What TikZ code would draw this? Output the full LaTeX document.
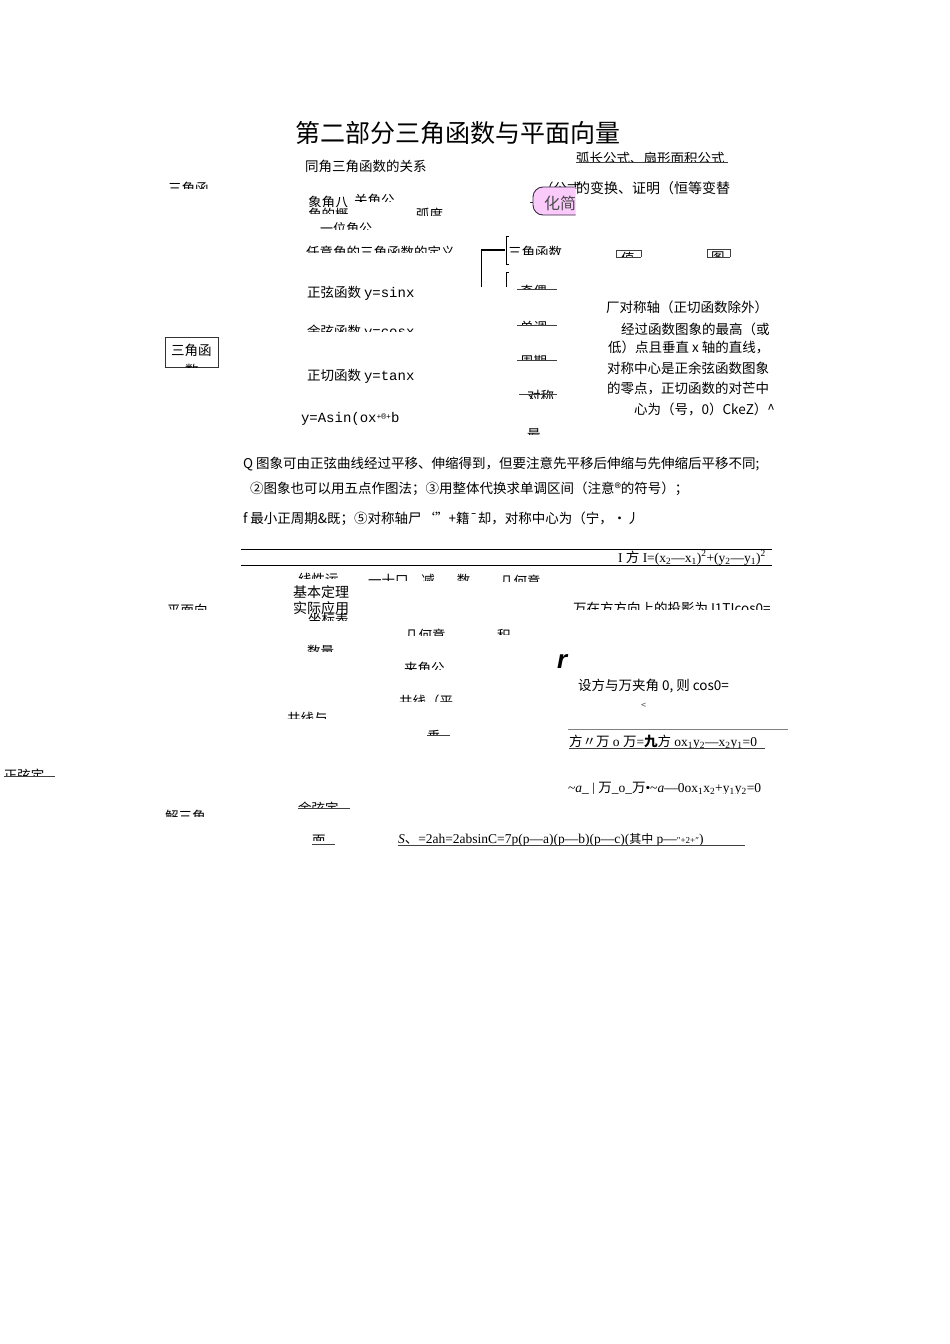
\documentclass[tikz,border=0pt]{standalone}
\usepackage{fontspec}
\setmainfont{Noto Sans CJK SC}
\newfontfamily\lmono{Liberation Mono}
\newfontfamily\lserif{Liberation Serif}
\newfontfamily\lsans{Liberation Sans}
\newfontfamily\cjkf{Noto Sans CJK SC}
\definecolor{pinkfill}{RGB}{250,202,250}
\definecolor{pinkline}{RGB}{60,40,70}
\tikzset{
 txt/.style={anchor=base west, inner sep=0pt, outer sep=0pt, font=\fontsize{13.5}{16}\selectfont},
 bigt/.style={txt, font=\fontsize{25}{28}\selectfont},
 monot/.style={txt, font=\fontsize{14}{16}\selectfont\lmono},
 rule/.style={line width=0.8pt, black},
 uline/.style={line width=0.6pt, black!75},
 brk/.style={line width=0.7pt, black},
}
% name, x, baseline y, lower clip y, text
\newcommand\cnode[5]{\begin{scope}\clip (#2-3,#3-26) rectangle (#2+330,#4);\node[txt] (#1) at (#2,#3) {#5};\end{scope}}
\begin{document}
\begin{tikzpicture}[x=1pt,y=-1pt]
\useasboundingbox[fill=white] (0,0) rectangle (950,1344);

% title
\node[bigt] (title) at (295,142) {第二部分三角函数与平面向量};

% upper part
\node[txt] (tongjiao) at (305,171) {同角三角函数的关系};
\cnode{huchang}{576}{163}{162}{\fontsize{13.5}{15}\selectfont 弧长公式、扇形面积公式}
\draw[uline] (576,162.5) -- (728,162.5);
\cnode{sjhleft}{168}{193}{188}{三角函}
\cnode{gongshi}{540}{193}{188}{（公式}
\node[txt, font=\fontsize{14}{16}\selectfont] (bianhuan) at (576,193) {的变换、证明（恒等变替};
\begin{scope}
 \clip (525,180) rectangle (575.5,225);
 \draw[pinkline, fill=pinkfill, line width=0.9pt, rounded corners=10] (533,187) rectangle (610,215);
\end{scope}
\draw[pinkline, line width=0.8pt] (530,202) -- (533,202);
\node[txt, text=black!70, font=\fontsize{16}{18}\selectfont] (huajian) at (544,209) {化简};

\cnode{xiangjiao}{308}{207}{206}{象角八}
\cnode{guanjiao}{354}{205}{201}{关角公}
\cnode{jiaogai}{308}{219}{213}{角的概}
\cnode{hudu}{416}{219}{215}{弧度}
\cnode{weijiao}{320}{233}{229}{\fontsize{13}{15}\selectfont 一位角公}
\cnode{dingyi}{306}{257}{252}{任意角的三角函数的定义}

% brackets
\draw[brk, line width=1.4pt] (481,250) -- (505,250);
\draw[brk] (481,250) -- (481,287);
\draw[brk] (509,236) -- (506,236) -- (506,264) -- (509,264);
\draw[brk] (509,272) -- (506,272) -- (506,287);
\cnode{sjhs}{508}{257}{254}{三角函数}
\draw[uline] (616,257) -- (616,250) -- (641,250) -- (641,257);
\cnode{zhi}{621}{263}{257}{值}
\draw[uline] (616,257) -- (641,257);
\draw[uline] (707,257) -- (707,249) -- (730,249) -- (730,257);
\cnode{tu}{711}{262}{257}{图}
\draw[uline] (707,257) -- (730,257);

\cnode{jiou}{520}{296}{289}{奇偶}
\draw[uline] (517,289) -- (557,289);
\cnode{dandiao}{520}{332}{325}{单调}
\draw[uline] (517,325) -- (557,325);
\cnode{zhouqi}{520}{366}{360}{周期}
\draw[uline] (517,360) -- (557,360);
\cnode{duicheng}{527}{401}{398}{对称}
\draw[uline] (519,394) -- (557,394);
\cnode{zui}{527}{439}{434}{最}

% functions
\node[txt] (sinx) at (307,297) {正弦函数 {\lmono\fontsize{14}{16}\selectfont y=sinx}};
\cnode{cosx}{307}{336}{331}{余弦函数 {\lmono\fontsize{14}{16}\selectfont y=cosx}}
\node[txt] (tanx) at (307,380) {正切函数 {\lmono\fontsize{14}{16}\selectfont y=tanx}};
\node[monot] (asin) at (301,422) {y=Asin(ox\raisebox{3pt}{\fontsize{8}{9}\selectfont +®+}b};

% left box
\draw[uline, black!80] (165,337) rectangle (218,367);
\node[txt] (sjhbox) at (171,355) {三角函};
\begin{scope}
 \clip (165,337) rectangle (218,367);
 \node[txt] (shubox) at (185,375) {数};
\end{scope}

% right paragraph
\node[txt] (p1) at (606,312) {厂对称轴（正切函数除外）};
\node[txt] (p2) at (621,334) {经过函数图象的最高（或};
\node[txt] (p3) at (608,352) {低）点且垂直 x 轴的直线，};
\node[txt] (p4) at (607,373) {对称中心是正余弦函数图象};
\node[txt] (p5) at (607,393) {的零点，正切函数的对芒中};
\node[txt] (p6) at (634,414) {心为（号，0）CkeZ）\^{}};

% notes
\node[txt] (q1) at (243,468) {Q 图象可由正弦曲线经过平移、伸缩得到，但要注意先平移后伸缩与先伸缩后平移不同;};
\node[txt] (q2) at (250,493) {②图象也可以用五点作图法；③用整体代换求单调区间（注意®的符号）；};
\node[txt] (q3) at (243,523) {f 最小正周期\&既；⑤对称轴尸‘”+籍¯却，对称中心为（宁，•丿};

% rules
\draw[rule] (241,549) -- (772,549);
\draw[rule] (241,565) -- (772,565);
\node[txt, font=\fontsize{13.5}{16}\selectfont\lserif] (dist) at (618,562) {I {\cjkf 方} I=(x\textsubscript{2}—x\textsubscript{1})\textsuperscript{2}+(y\textsubscript{2}—y\textsubscript{1})\textsuperscript{2}};

% vector part
\cnode{xianxing}{298}{584}{578}{线性运}
\cnode{jiajian}{368}{585}{580}{一十口\hspace{13pt}减\hspace{22pt}数}
\cnode{jiheyi1}{500}{586}{581}{几何意}
\node[txt, font=\fontsize{14}{16}\selectfont] (jiben) at (293,597) {基本定理};
\node[txt, font=\fontsize{14}{16}\selectfont] (shiji) at (293,613) {实际应用};
\cnode{zuobiao}{308}{624}{620}{坐标表}
\cnode{pingmian}{167}{615}{609}{平面向}
\cnode{touying}{573}{613}{609}{万在方方向上的投影为 I1TIcos0=}
\cnode{jiheyi2}{405}{640}{635}{几何意}
\cnode{ji}{497}{640}{634}{积}
\cnode{shuliang}{307}{656}{651}{数量}
\node[txt, font=\fontsize{26}{28}\selectfont\lsans\bfseries\itshape] (rr) at (557,668) {r};
\cnode{jiajiao}{404}{673}{669}{夹角公}
\node[txt] (shefang) at (578,690) {设方与万夹角 0, 则 cos0=};
\node[txt, font=\fontsize{9}{10}\selectfont, text=black!70] (lt) at (641,708) {<};
\cnode{gongxianping}{399}{706}{701}{共线（平}
\cnode{gongxianyu}{287}{723}{718}{共线与}
\draw[line width=0.8pt, black!50] (568,729) -- (788,729);
\cnode{chui}{427}{741}{735}{垂}
\draw[uline] (427,735) -- (450,735);
\node[txt, font=\fontsize{13.5}{16}\selectfont\lserif] (pingxing) at (569,746) {{\cjkf 方〃万} o {\cjkf 万}={\cjkf\bfseries 九}{\cjkf 方} ox\textsubscript{1}y\textsubscript{2}—x\textsubscript{2}y\textsubscript{1}=0};
\draw[uline] (569,748) -- (765,748);
\cnode{zhengxian}{4}{780}{775}{正弦定}
\draw[uline] (4,776) -- (55,776);
\cnode{chuizhi}{568}{792}{793}{{\lserif\fontsize{13.5}{16}\selectfont \~{}\textit{a}\_ | {\cjkf 万}\_o\_{\cjkf 万}•\~{}\textit{a}—0ox\textsubscript{1}x\textsubscript{2}+y\textsubscript{1}y\textsubscript{2}=0}}
\cnode{yuxian}{298}{813}{808}{余弦定}
\draw[uline] (298,808) -- (350,808);
\cnode{jiesan}{165}{821}{816}{解三角}
\cnode{mian}{312}{845}{840}{面}
\draw[uline] (312,844) -- (335,844);
\node[txt, font=\fontsize{13.5}{16}\selectfont\lserif] (area) at (398,843) {\textit{S}{\cjkf 、}=2ah=2absinC=7p(p—a)(p—b)(p—c)({\cjkf\fontsize{12}{14}\selectfont 其中} p—{\fontsize{9}{10}\selectfont ″+2+″})};
\draw[uline] (398,845.5) -- (745,845.5);
\end{tikzpicture}
\end{document}
